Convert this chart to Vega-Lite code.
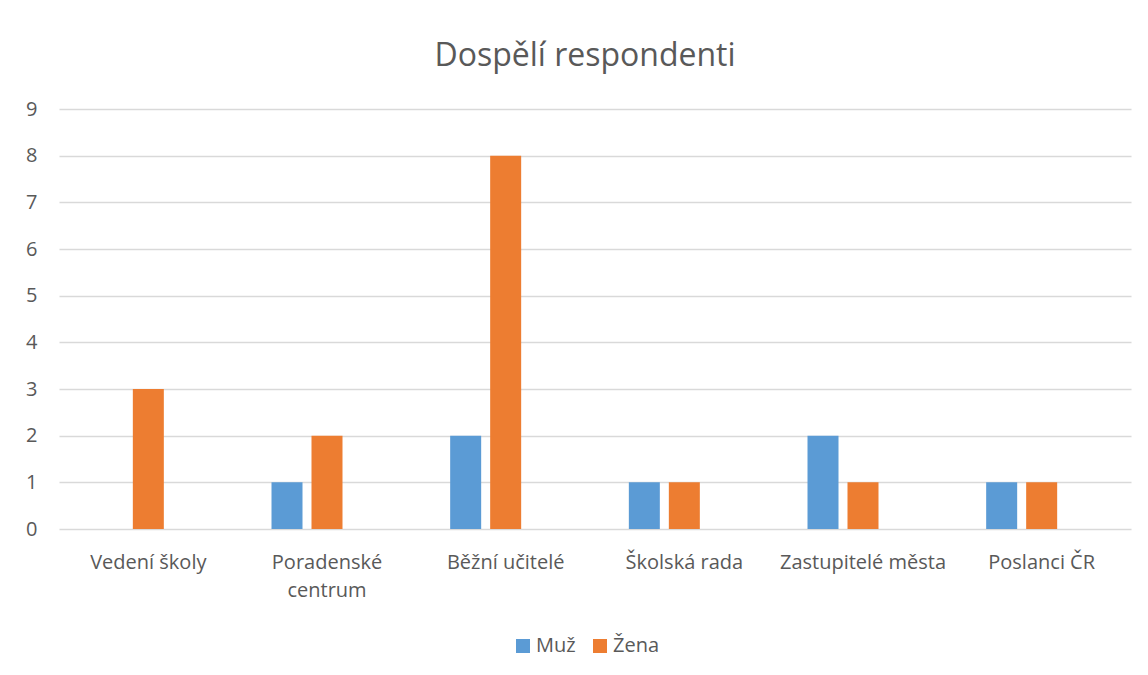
{
  "$schema": "https://vega.github.io/schema/vega-lite/v6.json",
  "autosize": {"type": "none"},
  "width": 1072,
  "height": 420,
  "padding": {"left": 59, "top": 109, "right": 17, "bottom": 146},
  "background": "white",
  "title": {
    "text": "Dospělí respondenti",
    "fontSize": 32,
    "font": "Open Sans",
    "fontWeight": "normal",
    "color": "#595959",
    "anchor": "middle",
    "dx": -10,
    "offset": 26
  },
  "data": {
    "values": [
      {"kategorie": "Vedení školy", "pohlavi": "Muž", "pocet": 0},
      {"kategorie": "Vedení školy", "pohlavi": "Žena", "pocet": 3},
      {"kategorie": "Poradenské centrum", "pohlavi": "Muž", "pocet": 1},
      {"kategorie": "Poradenské centrum", "pohlavi": "Žena", "pocet": 2},
      {"kategorie": "Běžní učitelé", "pohlavi": "Muž", "pocet": 2},
      {"kategorie": "Běžní učitelé", "pohlavi": "Žena", "pocet": 8},
      {"kategorie": "Školská rada", "pohlavi": "Muž", "pocet": 1},
      {"kategorie": "Školská rada", "pohlavi": "Žena", "pocet": 1},
      {"kategorie": "Zastupitelé města", "pohlavi": "Muž", "pocet": 2},
      {"kategorie": "Zastupitelé města", "pohlavi": "Žena", "pocet": 1},
      {"kategorie": "Poslanci ČR", "pohlavi": "Muž", "pocet": 1},
      {"kategorie": "Poslanci ČR", "pohlavi": "Žena", "pocet": 1}
    ]
  },
  "mark": {"type": "bar"},
  "encoding": {
    "x": {
      "field": "kategorie",
      "type": "nominal",
      "sort": null,
      "scale": {"paddingInner": 0, "paddingOuter": 0},
      "axis": {
        "title": null,
        "labelAngle": 0,
        "ticks": false,
        "domain": false,
        "labelFont": "Open Sans",
        "labelFontSize": 20,
        "labelColor": "#595959",
        "labelPadding": 23,
        "labelLineHeight": 28,
        "labelExpr": "datum.value == 'Poradenské centrum' ? ['Poradenské', 'centrum'] : datum.value"
      }
    },
    "xOffset": {
      "field": "pohlavi",
      "type": "nominal",
      "scale": {"domain": ["Muž", "Žena", "-"], "paddingInner": 0.225, "paddingOuter": 0.846}
    },
    "y": {
      "field": "pocet",
      "type": "quantitative",
      "scale": {"domain": [0, 9], "nice": false},
      "axis": {
        "title": null,
        "values": [0, 1, 2, 3, 4, 5, 6, 7, 8, 9],
        "ticks": false,
        "domain": false,
        "gridColor": "#D9D9D9",
        "gridWidth": 1.5,
        "labelFont": "Open Sans",
        "labelFontSize": 20,
        "labelColor": "#595959",
        "labelPadding": 22
      }
    },
    "color": {
      "field": "pohlavi",
      "type": "nominal",
      "scale": {"domain": ["Muž", "Žena"], "range": ["#5B9BD5", "#ED7D31"]},
      "legend": {
        "title": null,
        "orient": "none",
        "direction": "horizontal",
        "legendX": 454,
        "legendY": 527,
        "symbolType": "square",
        "symbolSize": 196,
        "symbolStrokeWidth": 0,
        "labelFont": "Open Sans",
        "labelFontSize": 20,
        "labelColor": "#595959",
        "labelOffset": 3,
        "columnPadding": 14
      }
    }
  },
  "config": {
    "view": {"stroke": null}
  }
}
